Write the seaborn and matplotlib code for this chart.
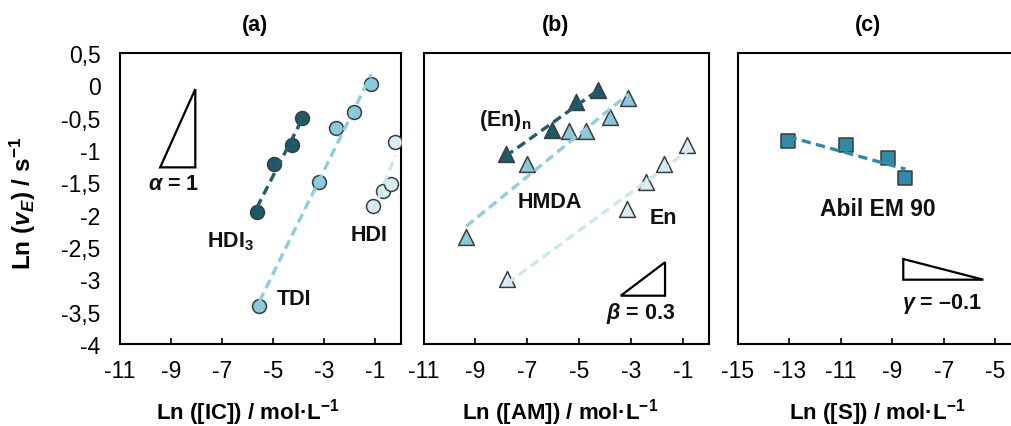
import numpy as np
import matplotlib
matplotlib.use("Agg")
import matplotlib.pyplot as plt
import seaborn as sns
from matplotlib.patches import Polygon

# ---------------- data ----------------
hdi3_x = [-5.64, -4.96, -4.25, -3.88]
hdi3_y = [-1.96, -1.21, -0.93, -0.50]
tdi_x = [-5.54, -3.22, -2.53, -1.85, -1.16]
tdi_y = [-3.41, -1.50, -0.66, -0.41, 0.02]
hdi_x = [-1.09, -0.70, -0.41, -0.22]
hdi_y = [-1.86, -1.63, -1.52, -0.87]

enn_x = [-7.84, -6.03, -5.13, -4.26]
enn_y = [-1.06, -0.69, -0.25, -0.07]
hmda_x = [-9.35, -7.03, -5.39, -4.74, -3.81, -3.12]
hmda_y = [-2.35, -1.21, -0.71, -0.71, -0.49, -0.19]
en_x = [-7.78, -3.15, -2.41, -1.74, -0.83]
en_y = [-3.00, -1.91, -1.50, -1.21, -0.93]

abil_x = [-13.07, -10.81, -9.16, -8.49]
abil_y = [-0.86, -0.93, -1.13, -1.43]

y_ticks = [0.5, 0, -0.5, -1, -1.5, -2, -2.5, -3, -3.5, -4]
y_tick_labels = ["0,5", "0", "-0,5", "-1", "-1,5", "-2", "-2,5", "-3", "-3,5", "-4"]
x_ticks_ab = [-11, -9, -7, -5, -3, -1]
x_ticks_c = [-15, -13, -11, -9, -7, -5]

titles = ["(a)", "(b)", "(c)"]
xlabels = [r"Ln ([IC]) / mol·L$^{\mathbf{-1}}$",
           r"Ln ([AM]) / mol·L$^{\mathbf{-1}}$",
           r"Ln ([S]) / mol·L$^{\mathbf{-1}}$"]

# ---------------- style ----------------
sns.set_theme(style="white")
plt.rcParams["font.family"] = ["Liberation Sans", "DejaVu Sans"]
plt.rcParams["axes.unicode_minus"] = False
plt.rcParams["mathtext.fontset"] = "custom"
plt.rcParams["mathtext.rm"] = "Liberation Sans"
plt.rcParams["mathtext.it"] = "Liberation Sans:italic"
plt.rcParams["mathtext.bf"] = "Liberation Sans:bold"
try:
    plt.rcParams["mathtext.bfit"] = "Liberation Sans:italic:bold"
except KeyError:
    pass

dark = "#1c5a68"
mid = "#89c9db"
light = "#d8eef4"
abil_c = "#2f8ba6"
line_dark = "#1f5d6b"
line_mid = "#8ccfe0"
line_light = "#cbe8f1"
edge = "#3c3c3c"

fig = plt.figure(figsize=(10.12, 4.27), dpi=100)
ax_a = fig.add_axes([120 / 1012, 82 / 427, 281 / 1012, 291 / 427])
ax_b = fig.add_axes([423.5 / 1012, 82 / 427, 285.5 / 1012, 291 / 427])
ax_c = fig.add_axes([738 / 1012, 82 / 427, 283 / 1012, 291 / 427])


def scatter(ax, x, y, marker, s, color):
    sns.scatterplot(x=x, y=y, ax=ax, marker=marker, s=s, color=color,
                    edgecolor=edge, linewidth=1.1, zorder=3, legend=False)


def fit(ax, x, y, color):
    k, b = np.polyfit(x, y, 1)
    xs = np.array([min(x), max(x)])
    ax.plot(xs, k * xs + b, color=color, lw=2.4, dashes=(2.8, 1.6),
            zorder=4, solid_capstyle="butt", dash_capstyle="butt")


# panel a
scatter(ax_a, hdi3_x, hdi3_y, "o", 100, dark)
scatter(ax_a, tdi_x, tdi_y, "o", 100, mid)
scatter(ax_a, hdi_x, hdi_y, "o", 100, light)
fit(ax_a, hdi3_x, hdi3_y, line_dark)
fit(ax_a, tdi_x, tdi_y, line_mid)
fit(ax_a, hdi_x, hdi_y, line_light)

# panel b
scatter(ax_b, enn_x, enn_y, "^", 130, dark)
scatter(ax_b, hmda_x, hmda_y, "^", 130, mid)
scatter(ax_b, en_x, en_y, "^", 130, light)
fit(ax_b, enn_x, enn_y, line_dark)
fit(ax_b, hmda_x, hmda_y, line_mid)
fit(ax_b, en_x, en_y, line_light)

# panel c
scatter(ax_c, abil_x, abil_y, "s", 110, abil_c)
fit(ax_c, abil_x, abil_y, abil_c)

for ax, xt, xl in [(ax_a, x_ticks_ab, (-11, 0)), (ax_b, x_ticks_ab, (-11, 0)),
                   (ax_c, x_ticks_c, (-15, -4))]:
    ax.set_xlim(*xl)
    ax.set_ylim(-4, 0.5)
    ax.set_xticks(xt)
    ax.set_xticklabels([str(v) for v in xt])
    ax.set_yticks(y_ticks)
    ax.set_xlabel("")
    ax.set_ylabel("")
    for sp in ax.spines.values():
        sp.set_visible(True)
        sp.set_color("black")
        sp.set_linewidth(1.5)
    ax.tick_params(axis="x", direction="in", length=4, width=1.2, color="black",
                   bottom=True, top=False, labelsize=16.5, pad=11, labelcolor="black")
    ax.tick_params(axis="y", length=0, left=False, labelsize=16.5, pad=14,
                   labelcolor="black")
    ax.grid(False)

ax_a.set_yticklabels(y_tick_labels)
ax_b.set_yticklabels([])
ax_c.set_yticklabels([])

ax_a.set_ylabel(r"Ln ($\mathbfit{v}_{\mathbfit{E}}$) / s$^{\mathbf{-1}}$",
                fontsize=17.5, fontweight="bold", color="black")
ax_a.yaxis.set_label_coords(-(120 - 38) / 281, (345 - 203) / 291)

# titles and x labels
for txt, xc in zip(titles, [255, 556, 868]):
    fig.text(xc / 1012, 1 - 25 / 427, txt, ha="center", va="center",
             fontsize=15.5, fontweight="bold", color="black")
for txt, xc in zip(xlabels, [248, 560, 877]):
    fig.text(xc / 1012, 1 - 413 / 427, txt, ha="center", va="center",
             fontsize=16, fontweight="bold", color="black")

# series labels
lab = dict(ha="center", va="center", fontsize=15.5, fontweight="bold", color="#111111")
ax_a.text(0.393, 0.354, r"HDI$_{\mathbf{3}}$", transform=ax_a.transAxes, **lab)
ax_a.text(0.618, 0.155, "TDI", transform=ax_a.transAxes, **lab)
ax_a.text(0.886, 0.375, "HDI", transform=ax_a.transAxes, **lab)
ax_b.text(0.285, 0.773, r"(En)$_{\mathbf{n}}$", transform=ax_b.transAxes, **lab)
ax_b.text(0.443, 0.491, "HMDA", transform=ax_b.transAxes, **lab)
ax_b.text(0.839, 0.436, "En", transform=ax_b.transAxes, **lab)
ax_c.text(0.495, 0.464, "Abil EM 90", transform=ax_c.transAxes,
          **{**lab, "fontsize": 16.5})

# slope triangles
tri = dict(closed=True, fill=False, edgecolor="black", lw=1.6, zorder=5)
ax_a.add_patch(Polygon([[0.143, 0.607], [0.268, 0.607], [0.268, 0.876]],
                       transform=ax_a.transAxes, **tri))
ax_b.add_patch(Polygon([[0.691, 0.166], [0.846, 0.166], [0.846, 0.281]],
                       transform=ax_b.transAxes, **tri))
ax_c.add_patch(Polygon([[0.584, 0.292], [0.584, 0.221], [0.867, 0.221]],
                       transform=ax_c.transAxes, **tri))
ax_a.text(0.19, 0.55, r"$\mathbfit{\alpha}$ = 1", transform=ax_a.transAxes, **lab)
ax_b.text(0.762, 0.107, r"$\mathbfit{\beta}$ = 0.3", transform=ax_b.transAxes, **lab)
ax_c.text(0.721, 0.141, r"$\mathbfit{\gamma}$ = –0.1", transform=ax_c.transAxes, **lab)

fig.savefig("out.png", dpi=100)
